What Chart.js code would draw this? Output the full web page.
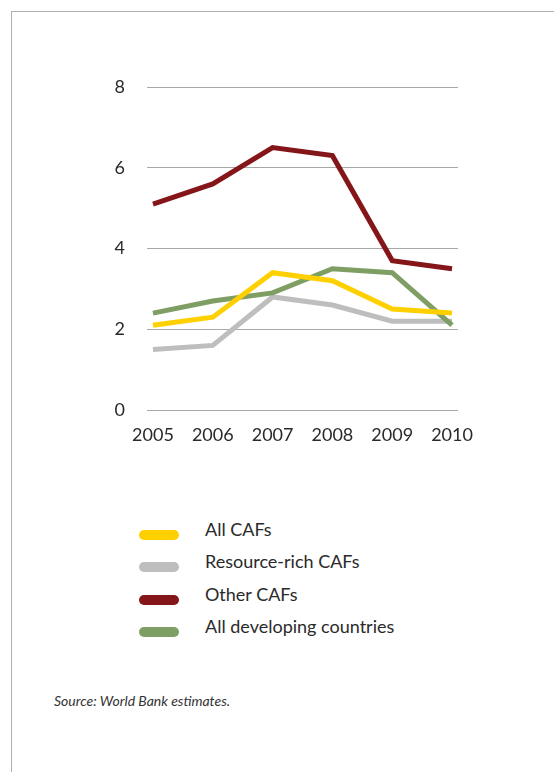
<!DOCTYPE html>
<html>
<head>
<meta charset="utf-8">
<script src="https://cdn.jsdelivr.net/npm/chart.js@4/dist/chart.umd.min.js"></script>
<style>
  html, body { margin: 0; padding: 0; background: #fff; }
  body { width: 554px; height: 772px; position: relative; overflow: hidden; font-family: Lato, "Open Sans", sans-serif; color: #2a2a2a; }
  #frame { position: absolute; left: 11px; top: 11px; right: -2px; bottom: -2px; border-top: 1.5px solid #b0b0b0; border-left: 1.5px solid #b0b0b0; }
  #wrap { position: absolute; left: 0; top: 0; width: 554px; height: 480px; }
  #legend { position: absolute; left: 139px; top: 519px; }
  .item { position: relative; height: 32.3px; }
  .sw { position: absolute; left: 0; top: 11px; width: 40px; height: 10px; border-radius: 5px; }
  .lab { position: absolute; left: 66px; top: -1px; font-size: 18px; line-height: 22px; white-space: nowrap; font-weight: 400; }
  #source { position: absolute; left: 54px; top: 692px; font-size: 14px; font-style: italic; font-weight: 400; color: #333; }
</style>
</head>
<body>
<div id="frame"></div>
<div id="wrap"><canvas id="c"></canvas></div>
<div id="legend"></div>
<div id="source">Source: World Bank estimates.</div>
<script>
const years = [2005, 2006, 2007, 2008, 2009, 2010];
const yearLabels = ["2005", "2006", "2007", "2008", "2009", "2010"];
const yTicks = [0, 2, 4, 6, 8];
const seriesNames = ["All CAFs", "Resource-rich CAFs", "Other CAFs", "All developing countries"];
const allCAFs = [2.1, 2.3, 3.4, 3.2, 2.5, 2.4];
const resourceRichCAFs = [1.5, 1.6, 2.8, 2.6, 2.2, 2.2];
const otherCAFs = [5.1, 5.6, 6.5, 6.3, 3.7, 3.5];
const allDeveloping = [2.4, 2.7, 2.9, 3.5, 3.4, 2.1];

const colors = ["#ffd000", "#bebebe", "#84161a", "#7f9e63"];
const orders = [1, 3, 0, 2];
const values = [allCAFs, resourceRichCAFs, otherCAFs, allDeveloping];

const datasets = values.map((vals, i) => ({
  label: seriesNames[i],
  data: vals.map((v, j) => ({ x: years[j], y: v })),
  borderColor: colors[i],
  backgroundColor: colors[i],
  borderWidth: 5,
  pointRadius: 0,
  tension: 0,
  order: orders[i],
  borderJoinStyle: 'miter'
}));

const tickFont = { family: 'Lato', size: 18, weight: '400' };

new Chart(document.getElementById('c'), {
  type: 'line',
  data: { datasets },
  options: {
    responsive: true,
    maintainAspectRatio: false,
    animation: false,
    layout: { padding: { left: 0, right: 96, top: 87, bottom: 0 } },
    plugins: { legend: { display: false }, tooltip: { enabled: false } },
    scales: {
      x: {
        type: 'linear',
        min: 2004.9,
        max: 2010.1,
        afterBuildTicks: s => { s.ticks = years.map(v => ({ value: v })); },
        afterFit: s => { s.height = 70; },
        grid: { display: false, drawTicks: false },
        border: { display: false },
        ticks: {
          padding: 14,
          color: '#2a2a2a',
          font: tickFont,
          callback: v => yearLabels[years.indexOf(v)],
          maxRotation: 0,
          autoSkip: false
        }
      },
      y: {
        min: 0,
        max: 8,
        afterBuildTicks: s => { s.ticks = yTicks.map(v => ({ value: v })); },
        afterFit: s => { s.width = 147; },
        grid: { color: '#a8a8a8', lineWidth: 1, drawTicks: false },
        border: { display: false },
        ticks: {
          padding: 22,
          color: '#2a2a2a',
          font: tickFont,
          callback: v => String(v)
        }
      }
    }
  }
});

const legend = document.getElementById('legend');
seriesNames.forEach((name, i) => {
  const it = document.createElement('div');
  it.className = 'item';
  const sw = document.createElement('div');
  sw.className = 'sw';
  sw.style.background = colors[i];
  const lab = document.createElement('div');
  lab.className = 'lab';
  lab.textContent = name;
  it.appendChild(sw);
  it.appendChild(lab);
  legend.appendChild(it);
});
</script>
</body>
</html>
